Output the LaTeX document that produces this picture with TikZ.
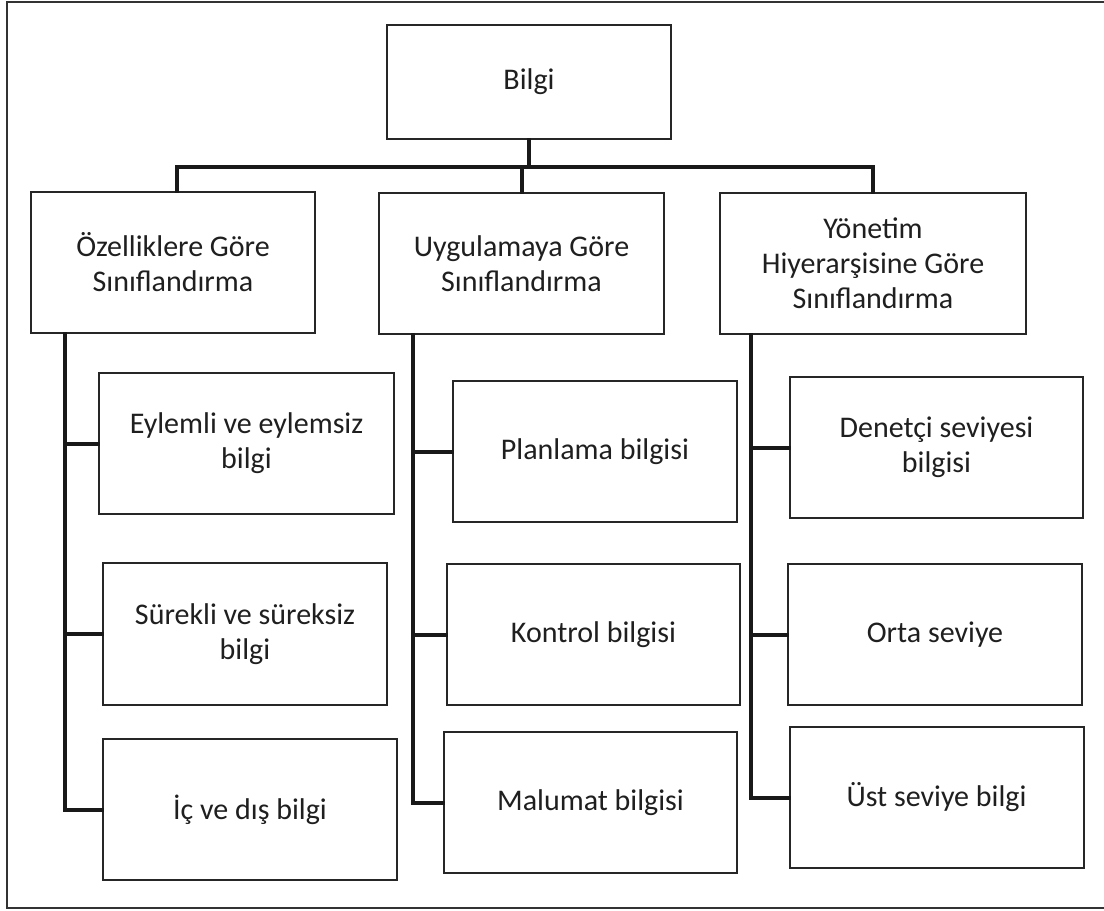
\documentclass[tikz,border=0pt]{standalone}
\usepackage{fontspec}
\setmainfont{Carlito}
\begin{document}
\begin{tikzpicture}[x=1pt,y=-1pt,
  box/.style={draw=black!85, line width=2pt, fill=white, rectangle, inner sep=0pt,
    align=center, font=\fontsize{30}{35}\selectfont, text=black!88},
  conn/.style={draw=black!90, line width=4pt, line cap=rect},
  frame/.style={draw=black!80, line width=2.5pt}]
\useasboundingbox (0,0) rectangle (1104,911);
% outer frame (open on the right)
\draw[frame] (1110,2) -- (7,2) -- (7,908) -- (1110,908);

% root and the three classifications
\node[box, minimum width=284, minimum height=114] (bilgi) at (529,82) {Bilgi};
\node[box, minimum width=284, minimum height=141] (oz) at (173,262.5) {Özelliklere Göre\\Sınıflandırma};
\node[box, minimum width=285, minimum height=141] (uyg) at (521.5,263.5) {Uygulamaya Göre\\Sınıflandırma};
\node[box, minimum width=306, minimum height=141] (yon) at (873,263.5) {Yönetim\\Hiyerarşisine Göre\\Sınıflandırma};

% first column
\node[box, minimum width=295, minimum height=141] (eyl) at (246.5,443.5) {Eylemli ve eylemsiz\\bilgi};
\node[box, minimum width=284, minimum height=142] (sur) at (245,634) {Sürekli ve süreksiz\\bilgi};
\node[box, minimum width=294, minimum height=141] (ic) at (250,809.5) {İç ve dış bilgi};

% second column
\node[box, minimum width=284, minimum height=141] (plan) at (595,451.5) {Planlama bilgisi};
\node[box, minimum width=293, minimum height=141] (kon) at (593.5,634.5) {Kontrol bilgisi};
\node[box, minimum width=293, minimum height=141] (mal) at (590.5,802.5) {Malumat bilgisi};

% third column
\node[box, minimum width=293, minimum height=141] (den) at (936.5,447.5) {Denetçi seviyesi\\bilgisi};
\node[box, minimum width=294, minimum height=141] (orta) at (935,634.5) {Orta seviye};
\node[box, minimum width=294, minimum height=141] (ust) at (936.5,797.5) {Üst seviye bilgi};

% bus under the root
\coordinate (busL) at (177,167);
\coordinate (busR) at (873,167);
\draw[conn] (oz.north -| busL) -- (busL) -- (busR) -- (yon.north);
\draw[conn] (bilgi.south) -- (bilgi.south |- busL);
\draw[conn] (uyg.north) -- (uyg.north |- busL);

% spines
\coordinate (spL) at (65,0);
\coordinate (spM) at (413,0);
\coordinate (spR) at (751,0);
\draw[conn] (oz.south -| spL) -- (spL |- ic.west) -- (ic.west);
\draw[conn] (spL |- eyl.west) -- (eyl.west);
\draw[conn] (spL |- sur.west) -- (sur.west);
\draw[conn] (uyg.south -| spM) -- (spM |- mal.west) -- (mal.west);
\draw[conn] (spM |- plan.west) -- (plan.west);
\draw[conn] (spM |- kon.west) -- (kon.west);
\draw[conn] (yon.south -| spR) -- (spR |- ust.west) -- (ust.west);
\draw[conn] (spR |- den.west) -- (den.west);
\draw[conn] (spR |- orta.west) -- (orta.west);
\end{tikzpicture}
\end{document}
